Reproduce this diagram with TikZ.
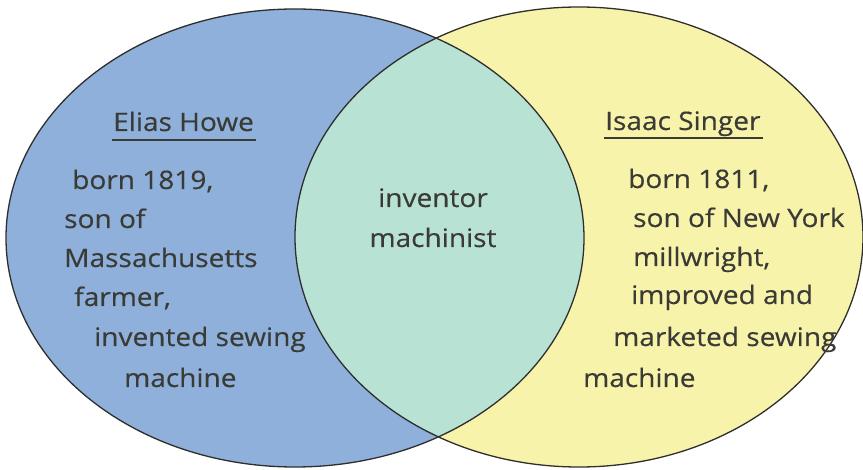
\documentclass[tikz,border=0pt]{standalone}
\usepackage{fontspec}
\setmainfont[FakeStretch=1.1, FakeBold=0.35]{Open Sans}
\definecolor{howeblue}{HTML}{8EB0DA}
\definecolor{singeryellow}{HTML}{F8F3AA}
\definecolor{sharedmint}{HTML}{B8E2D4}
\definecolor{outline}{HTML}{2E2E2C}
\definecolor{ink}{HTML}{3A3A36}
\tikzset{
  txt/.style={inner sep=0pt, text=ink, font=\fontsize{25.5}{30}\selectfont},
  line/.style={anchor=base west, txt},
  head/.style={anchor=base west, txt},
  uline/.style={draw=ink, line width=1.6pt},
  rim/.style={draw=outline, line width=1.3pt}
}
\begin{document}
\begin{tikzpicture}[x=1pt,y=-1pt]
\useasboundingbox (0,0) rectangle (863,470);
\fill[white] (0,0) rectangle (863,470);
% the two sets
\fill[howeblue] (295,238) ellipse [x radius=289, y radius=229];
\fill[singeryellow] (579,237) ellipse [x radius=284, y radius=230];
% their overlap
\begin{scope}
  \clip (295,238) ellipse [x radius=289, y radius=229];
  \fill[sharedmint] (579,237) ellipse [x radius=284, y radius=230];
\end{scope}
\draw[rim] (295,238) ellipse [x radius=289, y radius=229];
\draw[rim] (579,237) ellipse [x radius=284, y radius=230];

% Elias Howe
\node[head] (howe) at (113,131) {Elias Howe};
\draw[uline] ([shift={(-1,9)}]howe.base west) -- ([shift={(2,9)}]howe.base east);
\node[line] (h1) at (72,189) {born 1819,};
\node[line] (h2) at (64,228) {son of};
\node[line] (h3) at (64,267) {Massachusetts};
\node[line] (h4) at (74,306) {farmer,};
\node[line] (h5) at (94,346) {invented sewing};
\node[line] (h6) at (124,387) {machine};

% shared
\node[txt, anchor=base] (c1) at (433,207) {inventor};
\node[txt, anchor=base] (c2) at (433,247) {machinist};

% Isaac Singer
\node[head] (singer) at (605,130) {Isaac Singer};
\draw[uline] ([shift={(-1,8)}]singer.base west) -- ([shift={(2,8)}]singer.base east);
\node[line] (s1) at (628,188) {born 1811,};
\node[line] (s2) at (633,227) {son of New York};
\node[line] (s3) at (633,266) {millwright,};
\node[line] (s4) at (631,304) {improved and};
\node[line] (s5) at (613,346) {marketed sewing};
\node[line] (s6) at (583,387) {machine};
\end{tikzpicture}
\end{document}
